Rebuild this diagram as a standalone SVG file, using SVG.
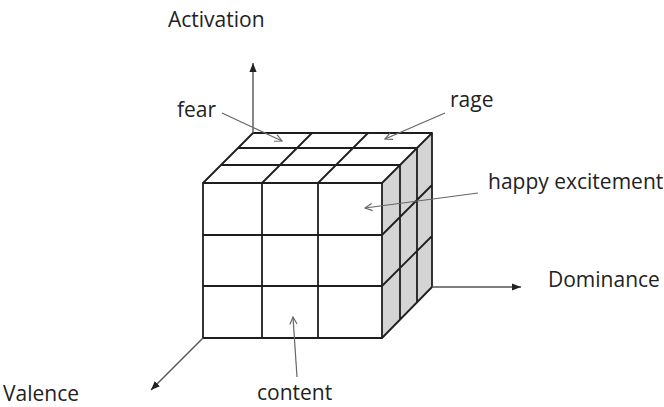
<svg xmlns="http://www.w3.org/2000/svg" width="664" height="407" viewBox="0 0 664 407">
<style>
.lbl{font-family:"Open Sans","Liberation Sans",sans-serif;font-size:21px;fill:#222}
.edge{fill:none;stroke:#1e1e1e;stroke-width:1.8;stroke-linejoin:round}
.axis{fill:none;stroke:#555;stroke-width:1.4}
.ptr{fill:none;stroke:#666;stroke-width:1.2}
</style>
<defs>
<marker id="solid" viewBox="0 0 10 10" refX="10" refY="5" markerWidth="9" markerHeight="9" orient="auto" markerUnits="userSpaceOnUse"><path d="M0,1 L10,5 L0,9 Z" fill="#222"/></marker>
<marker id="open" viewBox="0 0 10 10" refX="9" refY="5" markerWidth="9" markerHeight="9" orient="auto" markerUnits="userSpaceOnUse"><path d="M1,1 L9,5 L1,9" fill="none" stroke="#666" stroke-width="1.3"/></marker>
</defs>
<rect width="664" height="407" fill="#fff"/>
<g id="cube">
<polygon points="382,183 432,133 432,287 382,338" fill="#d4d4d4"/>
<polygon points="203,183 382,183 432,133 253,133" fill="#fff"/>
<rect x="203" y="183" width="179" height="155" fill="#fff"/>
<path class="edge" d="M203,183 H382 V338 H203 Z M262,183 V338 M318,183 V338 M203,235 H382 M203,286 H382"/>
<path class="edge" d="M203,183 L253,133 H432 L382,183 M221,165 H400 M238,148 H417 M262,183 L312,133 M318,183 L368,133"/>
<path class="edge" d="M432,133 V287 L382,338 M400,165 V320 M417,148 V303 M382,235 L432,185 M382,286 L432,236"/>
</g>
<g id="connectors">
<line class="axis" x1="253" y1="133" x2="253" y2="63" marker-end="url(#solid)"/>
<line class="axis" x1="432" y1="287" x2="521" y2="287" marker-end="url(#solid)"/>
<line class="axis" x1="203" y1="338" x2="151" y2="390" marker-end="url(#solid)"/>
<line class="ptr" x1="222" y1="113" x2="282" y2="141" marker-end="url(#open)"/>
<line class="ptr" x1="445" y1="113" x2="385" y2="139" marker-end="url(#open)"/>
<line class="ptr" x1="478" y1="193" x2="365" y2="208" marker-end="url(#open)"/>
<line class="ptr" x1="297" y1="377" x2="293" y2="317" marker-end="url(#open)"/>
</g>
<g id="label-activation"><text class="lbl" x="168" y="27">Activation</text></g>
<g id="label-fear"><text class="lbl" x="177" y="117">fear</text></g>
<g id="label-rage"><text class="lbl" x="450" y="107">rage</text></g>
<g id="label-happy"><text class="lbl" x="488" y="189">happy excitement</text></g>
<g id="label-dominance"><text class="lbl" x="548" y="287">Dominance</text></g>
<g id="label-valence"><text class="lbl" x="3" y="401">Valence</text></g>
<g id="label-content"><text class="lbl" x="257" y="400">content</text></g>
</svg>
